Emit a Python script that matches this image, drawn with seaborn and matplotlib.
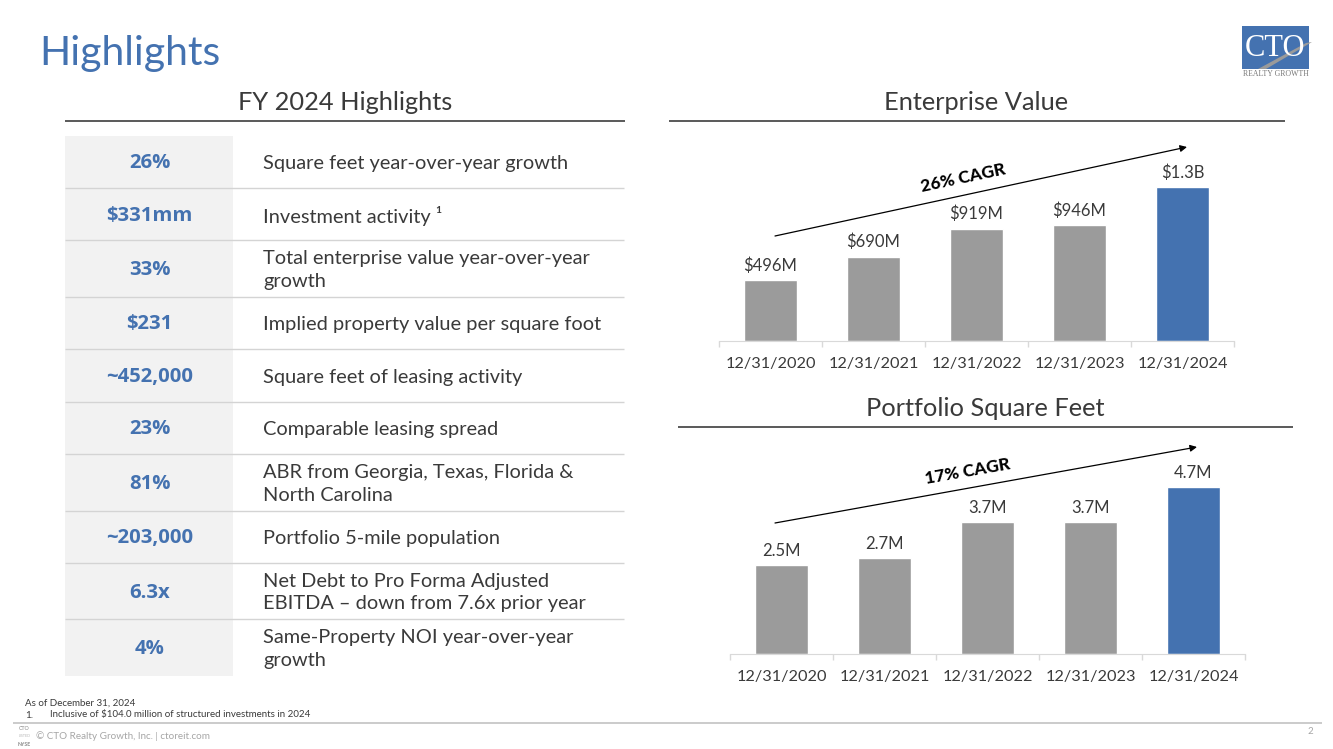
import matplotlib
matplotlib.use("Agg")
import matplotlib.pyplot as plt
from matplotlib.patches import Rectangle, Polygon
import pandas as pd
import seaborn as sns

# ---- data ----
kpi_values = ["26%", "$331mm", "33%", "$231", "~452,000", "23%", "81%", "~203,000", "6.3x", "4%"]
kpi_labels = [
    "Square feet year-over-year growth",
    "Investment activity \u00b9",
    "Total enterprise value year-over-year\ngrowth",
    "Implied property value per square foot",
    "Square feet of leasing activity",
    "Comparable leasing spread",
    "ABR from Georgia, Texas, Florida &\nNorth Carolina",
    "Portfolio 5-mile population",
    "Net Debt to Pro Forma Adjusted\nEBITDA \u2013 down from 7.6x prior year",
    "Same-Property NOI year-over-year\ngrowth",
]
dates = ["12/31/2020", "12/31/2021", "12/31/2022", "12/31/2023", "12/31/2024"]
ev_values = [496, 690, 919, 946, 1260]
ev_labels = ["$496M", "$690M", "$919M", "$946M", "$1.3B"]
sqft_values = [2.5, 2.7, 3.7, 3.7, 4.7]
sqft_labels = ["2.5M", "2.7M", "3.7M", "3.7M", "4.7M"]

# ---- style ----
BLUE = "#4472b0"
GREY = "#9b9b9b"
DARK = "#3a3a3a"
W, H = 1333, 749

sns.set_style("white")
plt.rcParams["font.family"] = ["Lato", "DejaVu Sans"]

fig = plt.figure(figsize=(W / 100, H / 100), dpi=100, facecolor="white")

# page layer in pixel coordinates
page = fig.add_axes([0, 0, 1, 1])
page.set_xlim(0, W)
page.set_ylim(H, 0)
page.axis("off")


def bar_chart(left, right, top, bottom, values, labels, ymax):
    ax = fig.add_axes([left / W, 1 - bottom / H, (right - left) / W, (bottom - top) / H])
    ax.patch.set_alpha(0)
    df = pd.DataFrame({"date": dates, "value": values})
    sns.barplot(data=df, x="date", y="value", hue="date", legend=False, width=0.51,
                palette=[GREY, GREY, GREY, GREY, BLUE], saturation=1, ax=ax)
    ax.set_xlim(-0.5, 4.5)
    ax.set_ylim(0, ymax)
    ax.set_xlabel("")
    ax.set_ylabel("")
    ax.set_yticks([])
    ax.set_xticks([-0.5, 0.5, 1.5, 2.5, 3.5, 4.5], minor=True)
    ax.tick_params(axis="x", which="minor", bottom=True, length=4, width=1, color="#d9d9d9")
    ax.tick_params(axis="x", which="major", bottom=False, labelsize=11.7, labelcolor=DARK, pad=8)
    sns.despine(ax=ax, left=True)
    ax.spines["bottom"].set_color("#d9d9d9")
    for i, lab in enumerate(labels):
        ax.annotate(lab, (i, values[i]), xytext=(0, 4.5), textcoords="offset points",
                    ha="center", va="bottom", fontsize=12, color=DARK)
    return ax


# ---- title ----
page.text(39, 53, "Highlights", fontsize=29.5, color=BLUE, va="center", ha="left")

# logo
page.add_patch(Rectangle((1242, 26), 67, 43, color=BLUE, lw=0))
page.add_patch(Polygon([[1258, 69], [1266, 69], [1312, 42], [1306, 43]], color="#9a9a9a", lw=0))
page.text(1275.5, 48, "CTO", family="Liberation Serif", fontsize=22, color="white", ha="center", va="center")
page.text(1275.5, 73.5, "REALTY GROWTH", family="Liberation Serif", fontsize=5.6, color="#777777",
          ha="center", va="center")

# ---- section headers ----
for txt, cx, cy, x0, x1, ly in [("FY 2024 Highlights", 345, 103, 65, 625, 121),
                                ("Enterprise Value", 976, 103, 669, 1285, 121),
                                ("Portfolio Square Feet", 985, 409, 678, 1293, 427)]:
    page.text(cx, cy, txt, fontsize=18.3, color=DARK, ha="center", va="center")
    page.plot([x0, x1], [ly, ly], color="#595959", lw=1.4, solid_capstyle="butt")

# ---- table ----
row_edges = [136, 188, 240, 297, 349, 402, 454, 511, 563, 619, 676]
page.add_patch(Rectangle((65, 136), 168, 540, color="#f2f2f2", lw=0))
for i, (val, lab) in enumerate(zip(kpi_values, kpi_labels)):
    y0, y1 = row_edges[i], row_edges[i + 1]
    mid = (y0 + y1) / 2 + 1.5
    page.text(149.5, mid, val, family="Open Sans", fontsize=14.6, fontweight="bold", color=BLUE,
              ha="center", va="center")
    page.text(263, mid, lab, fontsize=14.4, color=DARK, ha="left", va="center", linespacing=1.38)
    if i < len(kpi_values) - 1:
        page.plot([65, 624], [y1, y1], color="#d4d4d4", lw=1.0, solid_capstyle="butt")

# ---- charts ----
bar_chart(719, 1234, 165, 341, ev_values, ev_labels, 1440)
bar_chart(730, 1245, 478, 654, sqft_values, sqft_labels, 4.95)

# CAGR arrows
for x0, y0, x1, y1, txt, tx, ty, rot in [(775, 236, 1187, 147, "26% CAGR", 963, 178, 12),
                                         (775, 523, 1197, 447, "17% CAGR", 968, 472, 10)]:
    page.annotate("", xy=(x1, y1), xytext=(x0, y0),
                  arrowprops=dict(arrowstyle="-|>", color="black", lw=0.9, shrinkA=0, shrinkB=0))
    page.text(tx, ty, txt, fontsize=12.5, fontweight="black", color="black", rotation=rot,
              ha="center", va="center", rotation_mode="anchor")

# ---- footer ----
page.text(25, 703, "As of December 31, 2024", fontsize=7, color=DARK, va="center")
page.text(25, 715, "1.", fontsize=7, color=DARK, va="center")
page.text(50, 715, "Inclusive of $104.0 million of structured investments in 2024", fontsize=7,
          color=DARK, va="center")
page.plot([13, 1322], [723, 723], color="#bdbdbd", lw=1.1, solid_capstyle="butt")
page.text(36, 736.5, "\u00a9 CTO Realty Growth, Inc. | ctoreit.com", fontsize=7.1, color="#a6a6a6", va="center")
page.text(1310, 731, "2", fontsize=7, color="#a6a6a6", ha="center", va="center")
page.text(24.5, 728, "CTO", fontsize=3.8, color="#8a8a8a", ha="center", va="center")
page.text(24.5, 736, "LISTED", fontsize=2.6, color="#b5b5b5", ha="center", va="center")
page.text(24.5, 744, "NYSE", fontsize=3.8, fontweight="bold", color="#8a8a8a", ha="center", va="center")

fig.savefig("out.png", dpi=100, facecolor="white")
